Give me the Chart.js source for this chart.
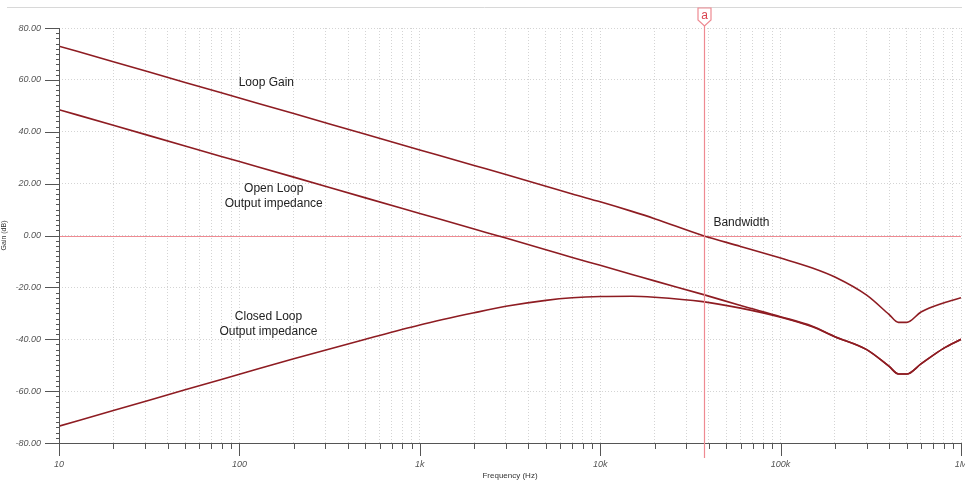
<!DOCTYPE html>
<html>
<head>
<meta charset="utf-8">
<script src="https://cdn.jsdelivr.net/npm/chart.js@4.4.1/dist/chart.umd.min.js"></script>
<style>
  body { margin: 0; background: #fff; }
  #wrap { position: relative; width: 965px; height: 481px; }
</style>
</head>
<body>
<div id="wrap"><canvas id="bode"></canvas></div>
<script>
// frequencies (Hz) and gains (dB)
const freqs = [10, 20, 50, 100, 200, 500, 1e3, 2e3, 3e3, 5e3, 7e3, 1e4, 1.5e4, 2e4, 3.7e4, 6e4, 1e5, 1.5e5, 2e5, 3e5, 4e5, 4.5e5, 5e5, 6e5, 8e5, 1e6];
const loopGain = [73, 67, 59, 53, 47, 39, 33, 27, 23.5, 19, 16, 13, 9.3, 6.5, 0, -4.2, -8.7, -12.5, -16, -23, -30.5, -33.5, -33.5, -29.5, -26, -24];
const openLoopZ = [48.5, 42.5, 34.5, 28.5, 22.5, 14.5, 8.5, 2.5, -1, -5.5, -8.5, -11.5, -15, -17.5, -22.7, -27, -31.3, -35, -39, -44, -50.5, -53.4, -53.4, -49.5, -43.5, -40];
const closedLoopZ = [-73.5, -67.5, -59.5, -53.5, -47.5, -40, -34.5, -29.8, -27.3, -25, -24, -23.5, -23.4, -23.8, -25.5, -28, -31.5, -35.2, -39, -44, -50.5, -53.4, -53.4, -49.5, -43.5, -40];

const yTicks = [-80, -60, -40, -20, 0, 20, 40, 60, 80];
const decadeLabels = { 10: "10", 100: "100", 1000: "1k", 10000: "10k", 100000: "100k", 1000000: "1M" };
const cursorFreq = 37800;
const cursorName = "a";

const notes = [
  { text: ["Loop Gain"], f: 141, y: 59 },
  { text: ["Open Loop", "Output impedance"], f: 155, y: 15 },
  { text: ["Closed Loop", "Output impedance"], f: 145, y: -34 }
];
const bwNote = { text: "Bandwidth", f: 42400, y: 5 };

// every 1..9 step per decade for the grid
const xGrid = [];
for (let d = 10; d < 1e6; d *= 10) {
  for (let m = 1; m < 10; m++) xGrid.push(d * m);
}
xGrid.push(1e6);

const lineColor = "#8e1c22";
const pink = "#ee8a92";
const labelFont = "italic 9px 'Liberation Sans', Arial, sans-serif";

const toPts = (arr) => freqs.map((f, i) => ({ x: f, y: arr[i] }));

const extras = {
  id: "extras",
  beforeDatasetsDraw(chart) {
    const { ctx, chartArea: a, scales: { y } } = chart;
    ctx.save();
    // top rule
    ctx.strokeStyle = "#d8d8d8";
    ctx.lineWidth = 1;
    ctx.beginPath();
    ctx.moveTo(7, 7.5);
    ctx.lineTo(962, 7.5);
    ctx.stroke();
    // 0 dB line
    const y0 = Math.round(y.getPixelForValue(0)) + 0.5;
    ctx.strokeStyle = pink;
    ctx.beginPath();
    ctx.moveTo(a.left, y0);
    ctx.lineTo(a.right, y0);
    ctx.stroke();
    ctx.restore();
  },
  afterDraw(chart) {
    const { ctx, chartArea: a, scales: { x, y } } = chart;
    ctx.save();
    ctx.strokeStyle = "#555";
    ctx.lineWidth = 1;
    // axis lines
    ctx.beginPath();
    ctx.moveTo(a.left + 0.5, a.top);
    ctx.lineTo(a.left + 0.5, a.bottom + 12);
    ctx.moveTo(a.left, a.bottom + 0.5);
    ctx.lineTo(a.right, a.bottom + 0.5);
    ctx.stroke();
    // y ticks
    ctx.beginPath();
    for (let v = -80; v <= 80; v += 2) {
      const py = Math.round(y.getPixelForValue(v)) + 0.5;
      const len = v % 20 === 0 ? 14 : 3;
      ctx.moveTo(a.left - len, py);
      ctx.lineTo(a.left, py);
    }
    // x ticks
    xGrid.forEach((f) => {
      const px = Math.round(x.getPixelForValue(f)) + 0.5;
      const len = decadeLabels[f] ? 13 : 6;
      ctx.moveTo(px, a.bottom);
      ctx.lineTo(px, a.bottom + len);
    });
    ctx.stroke();

    // x decade labels
    ctx.fillStyle = "#555";
    ctx.font = labelFont;
    ctx.textAlign = "center";
    ctx.textBaseline = "middle";
    Object.keys(decadeLabels).forEach((k) => {
      ctx.fillText(decadeLabels[k], x.getPixelForValue(Number(k)), a.bottom + 21);
    });

    // cursor
    const cx = Math.round(x.getPixelForValue(cursorFreq)) + 0.5;
    ctx.strokeStyle = pink;
    ctx.lineWidth = 1.2;
    ctx.beginPath();
    ctx.moveTo(cx, 24);
    ctx.lineTo(cx, a.bottom + 15);
    ctx.stroke();
    ctx.fillStyle = "#fff";
    ctx.beginPath();
    ctx.moveTo(cx - 6.5, 8);
    ctx.lineTo(cx + 6.5, 8);
    ctx.lineTo(cx + 6.5, 20);
    ctx.lineTo(cx, 26);
    ctx.lineTo(cx - 6.5, 20);
    ctx.closePath();
    ctx.fill();
    ctx.stroke();
    ctx.fillStyle = "#d9434f";
    ctx.font = "12px 'Liberation Sans', Arial, sans-serif";
    ctx.fillText(cursorName, cx, 16);

    // annotations
    ctx.fillStyle = "#222";
    notes.forEach((n) => {
      const px = x.getPixelForValue(n.f);
      const py = y.getPixelForValue(n.y);
      n.text.forEach((t, i) => ctx.fillText(t, px, py + (i - (n.text.length - 1) / 2) * 15));
    });
    ctx.textAlign = "left";
    ctx.fillText(bwNote.text, x.getPixelForValue(bwNote.f), y.getPixelForValue(bwNote.y));
    ctx.restore();
  }
};

new Chart(document.getElementById("bode"), {
  type: "line",
  data: {
    datasets: [
      { label: "Loop Gain", data: toPts(loopGain) },
      { label: "Open Loop Output impedance", data: toPts(openLoopZ) },
      { label: "Closed Loop Output impedance", data: toPts(closedLoopZ) }
    ].map((d) => ({
      ...d,
      borderColor: lineColor,
      borderWidth: 1.6,
      pointRadius: 0,
      cubicInterpolationMode: "monotone",
      fill: false
    }))
  },
  options: {
    responsive: true,
    maintainAspectRatio: false,
    animation: false,
    layout: { padding: { top: 28, right: 4, left: 0, bottom: 0 } },
    plugins: { legend: { display: false }, tooltip: { enabled: false } },
    scales: {
      x: {
        type: "logarithmic",
        min: 10,
        max: 1e6,
        afterBuildTicks: (s) => { s.ticks = xGrid.map((v) => ({ value: v })); },
        afterFit: (s) => { s.height = 38; },
        grid: { color: "#d4d4d4", lineWidth: 1, drawTicks: false },
        border: { display: false, dash: [1, 2] },
        ticks: { display: false },
        title: {
          display: true,
          text: "Frequency (Hz)",
          color: "#333",
          padding: { top: 0, bottom: 0 },
          font: { family: "'Liberation Sans', Arial, sans-serif", size: 8 }
        }
      },
      y: {
        min: -80,
        max: 80,
        afterBuildTicks: (s) => { s.ticks = yTicks.map((v) => ({ value: v })); },
        afterFit: (s) => { s.width = 59; },
        grid: { color: "#d4d4d4", lineWidth: 1, drawTicks: false },
        border: { display: false, dash: [1, 2] },
        ticks: {
          padding: 18,
          color: "#555",
          font: { family: "'Liberation Sans', Arial, sans-serif", size: 9, style: "italic" },
          callback: (v) => v.toFixed(2)
        },
        title: {
          display: true,
          text: "Gain (dB)",
          color: "#333",
          padding: { top: 0, bottom: 2 },
          font: { family: "'Liberation Sans', Arial, sans-serif", size: 7 }
        }
      }
    }
  },
  plugins: [extras]
});
</script>
</body>
</html>
